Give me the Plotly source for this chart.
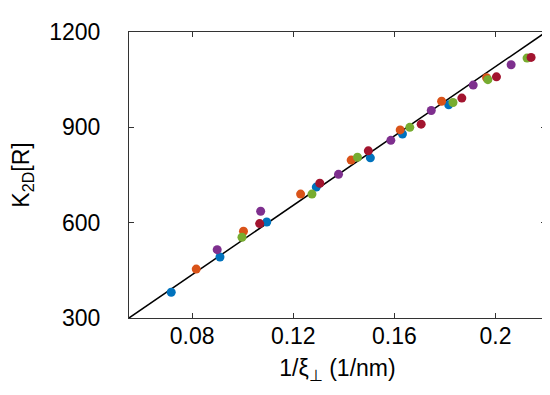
import plotly.graph_objects as go

blue_x = [0.0717, 0.0910, 0.1095, 0.1291, 0.1505, 0.1632, 0.1815]
blue_y = [381, 492, 602, 712, 804, 879, 971]
orange_x = [0.0816, 0.1003, 0.1229, 0.1429, 0.1623, 0.1787, 0.1965]
orange_y = [454, 573, 690, 797, 892, 982, 1056]
green_x = [0.0997, 0.1274, 0.1454, 0.1661, 0.1832, 0.1970, 0.2125]
green_y = [554, 690, 806, 900, 978, 1050, 1118]
purple_x = [0.0899, 0.1071, 0.1379, 0.1586, 0.1746, 0.1912, 0.2062]
purple_y = [515, 636, 752, 859, 953, 1033, 1097]
red_x = [0.1067, 0.1305, 0.1497, 0.1706, 0.1867, 0.2004, 0.2141]
red_y = [597, 724, 826, 910, 992, 1059, 1120]

line_x = [0.055, 0.22]
line_y = [300, 1200]

x_ticks = [0.08, 0.12, 0.16, 0.2]
x_ticklabels = ["0.08", "0.12", "0.16", "0.2"]
y_ticks = [300, 600, 900, 1200]

series = [
    (blue_x, blue_y, "#0072BD"),
    (orange_x, orange_y, "#D95319"),
    (green_x, green_y, "#77AC30"),
    (purple_x, purple_y, "#7E2F8E"),
    (red_x, red_y, "#A2142F"),
]

fig = go.Figure()
fig.add_trace(go.Scatter(x=line_x, y=line_y, mode="lines",
                         line=dict(color="black", width=1.5), showlegend=False))
for xs, ys, c in series:
    fig.add_trace(go.Scatter(x=xs, y=ys, mode="markers",
                             marker=dict(color=c, size=9, line=dict(width=0)),
                             showlegend=False))

font = "Liberation Sans, Arial, sans-serif"
fig.update_layout(
    width=550, height=395,
    margin=dict(l=121, r=11, t=20, b=85),
    paper_bgcolor="white", plot_bgcolor="white",
    font=dict(family=font, size=23, color="black"),
)
fig.update_xaxes(
    range=[0.055, 0.22], tickvals=x_ticks, ticktext=x_ticklabels,
    showgrid=False, zeroline=False, showline=True, linecolor="#333", linewidth=1,
    mirror="ticks", ticks="inside", ticklen=5, tickcolor="#333",
    tickfont=dict(size=23), ticklabelstandoff=-3,
    title=dict(text="1/ξ<sub>⊥</sub> (1/nm)", font=dict(size=23), standoff=12),
)
fig.update_yaxes(
    range=[300, 1200], tickvals=y_ticks,
    showgrid=False, zeroline=False, showline=True, linecolor="#333", linewidth=1,
    mirror="ticks", ticks="inside", ticklen=5, tickcolor="#333",
    tickfont=dict(size=23), ticklabelstandoff=23,
    title=dict(text="K<sub>2D</sub>[R]", font=dict(size=23), standoff=14),
)
fig.write_html("out.html")
